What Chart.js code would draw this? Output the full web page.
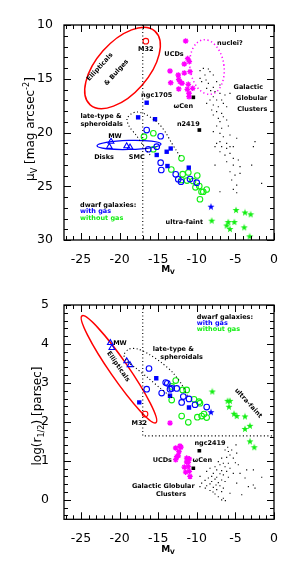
<!DOCTYPE html>
<html>
<head>
<meta charset="utf-8">
<script src="https://cdn.jsdelivr.net/npm/chart.js@4.4.1/dist/chart.umd.min.js"></script>
<style>
html, body { margin: 0; padding: 0; background: #fff; }
#wrap { position: relative; width: 301px; height: 583px; }
canvas { position: absolute; left: 0; }
</style>
</head>
<body>
<div id="wrap">
  <canvas id="topChart" width="301" height="290" style="top:0"></canvas>
  <canvas id="botChart" width="301" height="293" style="top:290px"></canvas>
</div>
<script>
// ---- axis ranges ----
const mvRange = [-27.2, 0];
const muRange = [10, 30];
const logrRange = [-0.5, 5];

// ---- top panel: surface brightness mu_V vs M_V ----
const gcTop = [
  [-9.58,14.25],[-9.15,14.03],[-8.50,14.09],[-8.29,14.34],[-8.94,14.65],[-7.86,14.65],[-9.58,14.96],
  [-9.37,15.27],[-8.80,15.12],[-8.50,15.43],[-7.43,15.27],[-7.00,15.58],[-7.86,15.80],[-8.72,15.89],
  [-8.20,16.11],[-7.64,16.20],[-7.00,16.36],[-6.35,16.51],[-7.86,16.67],[-8.29,16.98],[-7.43,16.98],
  [-6.78,16.98],[-5.70,16.36],[-8.72,17.29],[-7.86,17.44],[-7.21,17.60],[-6.56,17.29],[-6.13,17.60],
  [-8.07,17.91],[-7.43,18.06],[-6.78,18.22],[-7.86,18.37],[-7.21,18.68],[-6.56,18.53],[-6.13,18.84],
  [-7.00,18.99],[-7.43,19.40],[-6.78,19.61],[-5.91,19.40],[-7.86,19.92],[-7.00,20.08],[-6.56,20.39],
  [-5.70,20.23],[-4.83,20.54],[-7.00,20.85],[-6.13,21.01],[-5.27,21.32],[-2.46,20.85],[-7.64,21.32],
  [-7.43,21.01],[-6.78,21.32],[-6.13,21.48],[-5.70,21.32],[-7.00,21.79],[-6.35,22.10],[-5.70,21.94],
  [-5.27,22.41],[-4.62,22.56],[-6.13,22.72],[-7.64,23.03],[-5.27,23.03],[-4.40,23.18],[-2.89,23.03],
  [-5.70,23.65],[-5.05,23.96],[-4.40,23.80],[-5.48,24.42],[-4.83,24.89],[-5.27,25.29],[-4.83,25.60],
  [-7.00,25.51],[-1.60,24.73],[-2.67,21.32]
];
const ucdTop = [
  [-11.44,11.49],[-13.47,14.28],[-11.62,13.63],[-10.97,13.41],[-11.18,13.13],[-12.40,14.65],
  [-12.34,15.05],[-11.62,14.47],[-10.88,14.34],[-12.18,15.27],[-13.38,15.37],[-11.92,15.42],
  [-11.10,15.52],[-12.34,15.95],[-11.23,15.98],[-10.53,15.89],[-11.01,16.35],[-11.01,16.67]
];
const namedTop = [[-10.45,16.73],[-9.67,19.77]];          // omega Cen, NGC 2419
const blueSqTop = [
  [-16.49,17.23],[-17.60,18.59],[-15.41,18.76],[-15.19,22.09],
  [-13.90,21.79],[-13.38,21.49],[-13.80,23.12],[-11.04,23.27]
];
const blueCircTop = [
  [-16.49,19.77],[-14.68,20.35],[-16.28,21.56],[-15.19,21.32],[-14.68,22.81],[-14.60,23.49],
  [-12.73,23.89],[-12.40,24.35],[-12.05,24.58],[-10.88,24.33],[-10.01,24.67]
];
const greenCircTop = [
  [-16.84,20.39],[-15.63,20.07],[-15.63,21.56],[-11.98,22.40],[-13.30,23.44],[-11.83,23.88],
  [-11.10,23.72],[-9.94,24.00],[-11.98,24.42],[-11.27,24.47],[-10.49,24.51],[-9.68,24.98],
  [-10.17,25.10],[-9.39,25.51],[-9.16,25.51],[-8.72,25.30],[-9.59,26.21]
];
const diskTop = [[-21.11,20.84],[-21.33,21.32],[-19.08,21.26],[-18.65,21.38]];
const blueStarTop = [[-8.16,26.90]];
const greenStarTop = [
  [-8.07,28.20],[-4.92,27.21],[-3.76,27.44],[-3.02,27.61],[-5.92,28.33],
  [-5.14,28.33],[-6.13,28.65],[-5.70,28.98],[-3.86,28.82],[-3.15,29.66]
];
const m32Top = [[-16.6,11.5]];
const lateTypeTop = [
  [-16.06,22.09],[-16.97,21.16],[-17.88,20.23],[-18.78,19.40],[-19.04,18.74],[-18.52,18.28],
  [-17.75,18.09],[-16.71,18.28],[-15.67,18.74],[-14.77,19.30],[-13.99,20.05],[-13.34,20.88],
  [-12.69,21.63],[-12.05,22.37]
];
const dwarfEdgeTop = [[-17,10],[-17,30]];

// ---- bottom panel: log half-light radius vs M_V ----
const gcBot = [
  [-4.92,1.41],[-5.48,1.28],[-5.91,1.24],[-6.34,1.28],[-4.83,1.20],[-5.70,1.15],[-6.78,1.07],
  [-6.13,1.09],[-5.27,1.07],[-7.21,0.98],[-6.56,0.94],[-5.91,0.94],[-7.00,0.90],[-7.64,0.85],
  [-6.34,0.85],[-5.70,0.81],[-4.62,0.90],[-8.29,0.81],[-7.42,0.77],[-6.78,0.75],[-6.13,0.73],
  [-8.72,0.73],[-7.86,0.68],[-7.00,0.67],[-6.56,0.64],[-8.07,0.60],[-7.42,0.58],[-8.50,0.56],
  [-7.64,0.53],[-6.78,0.51],[-8.93,0.50],[-8.07,0.47],[-7.21,0.44],[-6.34,0.47],[-8.29,0.41],
  [-7.51,0.38],[-8.72,0.36],[-7.00,0.36],[-7.86,0.32],[-6.56,0.30],[-7.42,0.26],[-8.29,0.24],
  [-6.78,0.21],[-5.70,0.17],[-7.64,0.15],[-7.21,0.08],[-6.56,0.04],[-4.83,0.43],[-3.75,0.56],
  [-3.32,0.34],[-2.46,0.30],[-1.59,0.58],[-5.27,0.68],[-4.40,0.68],[-5.91,0.58],[-9.58,0.60],
  [-9.37,0.43],[-4.18,0.13],[-2.67,0.77],[-3.54,0.77],[-9.59,0.34],[-6.78,0.00],[-6.30,-0.02],
  [-2.68,0.38],[-8.90,0.30],[-7.90,0.20],[-5.00,0.95],[-6.00,1.35]
];
const ucdBot = [
  [-12.73,1.33],[-12.18,1.38],[-12.31,1.24],[-12.40,1.13],[-12.73,1.03],[-11.31,1.07],[-10.97,1.05],
  [-11.10,0.96],[-11.31,0.97],[-11.62,0.84],[-11.10,0.85],[-11.44,0.71],[-10.97,0.73],[-10.88,0.60],
  [-12.05,1.35],[-12.60,1.11],[-13.47,1.97]
];
const namedBot = [[-9.67,1.26],[-10.45,0.81]];            // NGC 2419, omega Cen
const blueSqBot = [[-17.45,2.50],[-15.25,3.12],[-13.47,2.67],[-11.01,2.37]];
const blueCircBot = [
  [-16.19,3.37],[-16.49,2.84],[-14.55,2.74],[-14.03,3.01],[-13.82,2.99],[-13.47,2.84],[-12.60,2.86],
  [-11.75,2.65],[-11.96,2.50],[-11.01,2.59],[-10.23,2.44],[-8.72,2.38],[-13.25,2.86]
];
const greenCircBot = [
  [-12.73,3.06],[-13.25,2.91],[-13.25,2.56],[-11.83,2.82],[-11.31,2.82],[-10.36,2.58],[-9.72,2.52],
  [-9.59,2.48],[-11.96,2.15],[-11.10,1.99],[-9.93,2.12],[-9.37,2.15],[-9.07,2.20],[-8.72,2.11]
];
const diskBot = [[-21.2,4.03],[-21.0,3.90],[-19.08,3.56],[-18.65,3.46]];
const blueStarBot = [[-8.16,2.25]];
const greenStarBot = [
  [-7.99,2.78],[-6.00,2.54],[-5.70,2.54],[-5.83,2.39],[-5.18,2.21],[-4.83,2.15],
  [-3.76,2.14],[-3.11,1.90],[-3.76,1.82],[-3.11,1.50],[-2.55,1.35]
];
const m32Bot = [[-16.7,2.2]];
const lateTypeBot = [
  [-13.21,2.62],[-14.77,2.87],[-16.32,3.13],[-17.88,3.38],[-19.04,3.56],[-19.43,3.72],[-18.78,3.87],
  [-17.62,3.87],[-16.06,3.72],[-14.51,3.51],[-13.08,3.26],[-11.92,2.95],[-11.14,2.64]
];
const dwarfEdgeBot = [[-17,5],[-17,1.64],[0,1.64]];

// ---- colours ----
const BLUE = '#0000ff', GREEN = '#11ee11', MAG = '#ff00ff', RED = '#ff0000';
const NONE = 'rgba(0,0,0,0)';

function starImage(color) {
  const c = document.createElement('canvas');
  c.width = 8; c.height = 8;
  const g = c.getContext('2d');
  g.fillStyle = color;
  g.beginPath();
  for (let i = 0; i < 10; i++) {
    const r = i % 2 ? 1.5 : 3.7;
    const a = -Math.PI / 2 + i * Math.PI / 5;
    g.lineTo(4 + r * Math.cos(a), 4.2 + r * Math.sin(a));
  }
  g.closePath();
  g.fill();
  return c;
}
const blueStar = starImage(BLUE), greenStar = starImage(GREEN);

const pts = arr => arr.map(([x, y]) => ({ x, y }));
const sGC = { pointStyle: 'rect', pointRadius: 0.8, backgroundColor: '#000', borderWidth: 0 };
const sUCD = { pointStyle: 'star', pointRadius: 2.8, borderColor: MAG, borderWidth: 1.3 };
const sNamed = { pointStyle: 'rect', pointRadius: 2.6, backgroundColor: '#000', borderWidth: 0 };
const sBlueSq = { pointStyle: 'rect', pointRadius: 3.1, backgroundColor: BLUE, borderWidth: 0 };
const sBlueO = { pointStyle: 'circle', pointRadius: 2.8, backgroundColor: NONE, borderColor: BLUE, borderWidth: 1.1 };
const sGreenO = { pointStyle: 'circle', pointRadius: 2.8, backgroundColor: NONE, borderColor: GREEN, borderWidth: 1.1 };
const sTri = { pointStyle: 'triangle', pointRadius: 3.3, backgroundColor: NONE, borderColor: BLUE, borderWidth: 1.1 };
const sBlueStar = { pointStyle: blueStar, pointRadius: 4 };
const sGreenStar = { pointStyle: greenStar, pointRadius: 4 };
const sM32 = { pointStyle: 'circle', pointRadius: 2.8, backgroundColor: NONE, borderColor: RED, borderWidth: 1.1 };

function scatter(arr, style) {
  return Object.assign({ data: pts(arr), showLine: false }, style);
}
function dotted(arr, tension) {
  return { data: pts(arr), showLine: true, pointRadius: 0, borderColor: '#000', borderWidth: 1.1,
           borderDash: [1.1, 2.4], tension: tension, fill: false };
}

// draws text made of pieces: [text, 0 normal | 1 sub | 2 sup]
function richText(ctx, parts, x, y, rot, size, weight) {
  ctx.save();
  ctx.translate(x, y);
  ctx.rotate(rot);
  ctx.fillStyle = '#000';
  ctx.textBaseline = 'middle';
  const fontOf = p => `${weight} ${p[1] ? size * 0.68 : size}px "DejaVu Sans"`;
  let w = 0;
  parts.forEach(p => { ctx.font = fontOf(p); w += ctx.measureText(p[0]).width; });
  let cx = -w / 2;
  parts.forEach(p => {
    ctx.font = fontOf(p);
    const dy = p[1] === 1 ? size * 0.3 : p[1] === 2 ? -size * 0.38 : 0;
    ctx.fillText(p[0], cx, dy);
    cx += ctx.measureText(p[0]).width;
  });
  ctx.restore();
}

const decor = {
  id: 'decor',
  beforeDatasetsDraw(chart, args, opts) {
    const { ctx, scales: { x, y } } = chart;
    (opts.ellipses || []).forEach(e => {
      ctx.save();
      ctx.strokeStyle = e.color;
      ctx.lineWidth = e.width;
      if (e.dash) ctx.setLineDash(e.dash);
      ctx.beginPath();
      ctx.ellipse(x.getPixelForValue(e.x), y.getPixelForValue(e.y), e.rx, e.ry, e.rot * Math.PI / 180, 0, 2 * Math.PI);
      ctx.stroke();
      ctx.restore();
    });
  },
  afterDraw(chart, args, opts) {
    const { ctx, chartArea: a, scales: { x, y } } = chart;
    ctx.save();
    ctx.strokeStyle = '#000';
    ctx.lineWidth = 1.3;
    ctx.strokeRect(a.left, a.top, a.right - a.left, a.bottom - a.top);
    ctx.lineWidth = 1;
    ctx.beginPath();
    const [xs, xm] = opts.xTicks, [ys, ym] = opts.yTicks;
    for (let i = Math.ceil(x.min / xs); i * xs <= x.max + 1e-9; i++) {
      const v = i * xs, p = Math.round(x.getPixelForValue(v)) + 0.5;
      const L = Math.abs(v / xm - Math.round(v / xm)) < 1e-6 ? 7 : 4;
      ctx.moveTo(p, a.bottom); ctx.lineTo(p, a.bottom - L);
      ctx.moveTo(p, a.top); ctx.lineTo(p, a.top + L);
    }
    for (let i = Math.ceil(y.min / ys); i * ys <= y.max + 1e-9; i++) {
      const v = i * ys, p = Math.round(y.getPixelForValue(v)) + 0.5;
      const L = Math.abs(v / ym - Math.round(v / ym)) < 1e-6 ? 7 : 4;
      ctx.moveTo(a.left, p); ctx.lineTo(a.left + L, p);
      ctx.moveTo(a.right, p); ctx.lineTo(a.right - L, p);
    }
    ctx.stroke();

    (opts.notes || []).forEach(n => {
      ctx.save();
      ctx.translate(x.getPixelForValue(n[1]), y.getPixelForValue(n[2]));
      ctx.rotate((n[5] || 0) * Math.PI / 180);
      ctx.font = 'bold 6.5px "DejaVu Sans"';
      ctx.fillStyle = n[3] || '#000';
      ctx.textAlign = n[4] || 'center';
      ctx.textBaseline = 'middle';
      ctx.fillText(n[0], 0, 0);
      ctx.restore();
    });

    richText(ctx, [['M', 0], ['V', 1]], opts.xTitle[0], opts.xTitle[1], 0, 9, 'bold');
    richText(ctx, opts.yTitle[2], opts.yTitle[0], opts.yTitle[1], -Math.PI / 2, 12, 'normal');
    ctx.restore();
  }
};

function makeChart(id, datasets, yRange, reverse, yStep, yWidth, xHeight, padTop, yPad, decorOpts) {
  return new Chart(document.getElementById(id), {
    type: 'scatter',
    data: { datasets },
    plugins: [decor],
    options: {
      responsive: false,
      animation: false,
      events: [],
      layout: { padding: { left: 0, right: 27, top: padTop, bottom: 0 } },
      plugins: { legend: { display: false }, tooltip: { enabled: false }, decor: decorOpts },
      scales: {
        x: {
          min: mvRange[0], max: mvRange[1],
          grid: { display: false }, border: { display: false },
          ticks: { stepSize: 5, includeBounds: false, autoSkip: false, maxRotation: 0, padding: 4,
                   color: '#000', font: { family: 'DejaVu Sans', size: 12.5 } },
          afterFit: s => { s.height = xHeight; }
        },
        y: {
          min: yRange[0], max: yRange[1], reverse: reverse,
          grid: { display: false }, border: { display: false },
          ticks: { stepSize: yStep, includeBounds: false, autoSkip: false, padding: yPad,
                   color: '#000', font: { family: 'DejaVu Sans', size: 12.5 } },
          afterFit: s => { s.width = yWidth; }
        }
      }
    }
  });
}

makeChart('topChart', [
  dotted(dwarfEdgeTop, 0),
  dotted(lateTypeTop, 0.3),
  scatter(gcTop, sGC),
  scatter(ucdTop, sUCD),
  scatter(namedTop, sNamed),
  scatter(blueSqTop, sBlueSq),
  scatter(blueCircTop, sBlueO),
  scatter(greenCircTop, sGreenO),
  scatter(diskTop, sTri),
  scatter(blueStarTop, sBlueStar),
  scatter(greenStarTop, sGreenStar),
  scatter(m32Top, sM32)
], muRange, true, 5, 64, 50, 25, 3, {
  xTicks: [1, 5], yTicks: [1, 5],
  ellipses: [
    { x: -19.62, y: 14.0, rx: 49, ry: 26, rot: -48.7, color: RED, width: 1.5 },
    { x: -18.78, y: 21.16, rx: 32, ry: 4.5, rot: -1.5, color: BLUE, width: 1.3 },
    { x: -8.68, y: 13.91, rx: 17, ry: 27.5, rot: -8, color: MAG, width: 1.5, dash: [1.2, 2.6] }
  ],
  notes: [
    ['Ellipticals', -22.54, 13.91, null, 'center', -48],
    ['& Bulges', -20.40, 14.42, null, 'center', -48],
    ['M32', -16.62, 12.26], ['nuclei?', -5.70, 11.70], ['UCDs', -12.95, 12.70],
    ['ngc1705', -15.19, 16.51], ['\u03C9Cen', -11.75, 17.53], ['n2419', -11.10, 19.21],
    ['Galactic', -3.33, 15.80], ['Globular', -2.89, 16.82], ['Clusters', -2.81, 17.81],
    ['late-type &', -22.41, 18.53], ['spheroidals', -22.32, 19.21],
    ['MW', -20.60, 20.39], ['Disks', -22.02, 22.31], ['SMC', -17.78, 22.31],
    ['dwarf galaxies:', -25.13, 26.77, null, 'left'],
    ['with gas', -25.13, 27.37, BLUE, 'left'],
    ['without gas', -25.13, 27.98, GREEN, 'left'],
    ['ultra-faint', -11.62, 28.33]
  ],
  xTitle: [168, 270],
  yTitle: [31, 129, [['\u03BC', 0], ['V', 1], [' [mag arcsec', 0], ['-2', 2], [']', 0]]]
});

makeChart('botChart', [
  dotted(dwarfEdgeBot, 0),
  dotted(lateTypeBot, 0.3),
  scatter(gcBot, sGC),
  scatter(ucdBot, sUCD),
  scatter(namedBot, sNamed),
  scatter(blueSqBot, sBlueSq),
  scatter(blueCircBot, sBlueO),
  scatter(greenCircBot, sGreenO),
  scatter(diskBot, sTri),
  scatter(blueStarBot, sBlueStar),
  scatter(greenStarBot, sGreenStar),
  scatter(m32Bot, sM32)
], logrRange, false, 1, 64, 63.7, 15, 7, {
  xTicks: [1, 5], yTicks: [0.2, 1],
  ellipses: [
    { x: -20.08, y: 3.35, rx: 65, ry: 9, rot: 55.3, color: RED, width: 1.5 }
  ],
  notes: [
    ['Ellipticals', -20.17, 3.42, null, 'center', 55],
    ['MW', -19.95, 4.02],
    ['late-type &', -13.04, 3.87], ['spheroidals', -11.96, 3.67],
    ['dwarf galaxies:', -10.01, 4.68, null, 'left'],
    ['with gas', -10.01, 4.53, BLUE, 'left'],
    ['without gas', -10.01, 4.38, GREEN, 'left'],
    ['M32', -17.45, 1.97],
    ['ultra-faint', -3.33, 2.48, null, 'center', 48],
    ['ngc2419', -8.29, 1.45], ['UCDs', -14.47, 1.01], ['\u03C9Cen', -9.29, 1.01],
    ['Galactic Globular', -14.34, 0.34], ['Clusters', -13.34, 0.15]
  ],
  xTitle: [168, 260],
  yTitle: [38, 126, [['log(r', 0], ['1/2', 1], [') [parsec]', 0]]]
});
</script>
</body>
</html>
